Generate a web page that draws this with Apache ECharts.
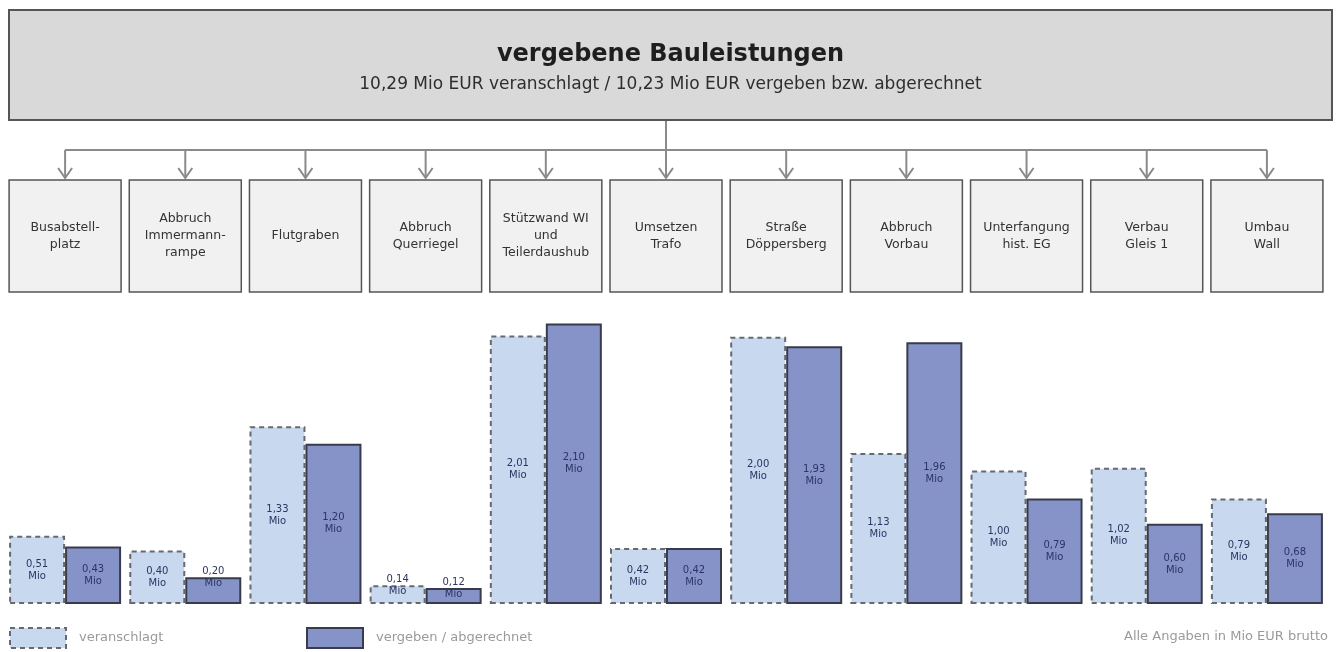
<!DOCTYPE html>
<html lang="de">
<head>
    <meta charset="UTF-8">
    <title>vergebene Bauleistungen</title>
    <style>
        html, body { margin: 0; padding: 0; background: #fff; }
        #chart { width: 1341px; height: 652px; }
    </style>
    <script src="https://cdn.jsdelivr.net/npm/echarts@6/dist/echarts.min.js"></script>
</head>
<body>
    <div id="chart"></div>
    <script>
        // Kategorien (Kästen oben, Balkenpaare unten)
        const categories = [
            'Busabstell-\nplatz', 'Abbruch\nImmermann-\nrampe', 'Flutgraben', 'Abbruch\nQuerriegel',
            'Stützwand WI\nund\nTeilerdaushub', 'Umsetzen\nTrafo', 'Straße\nDöppersberg', 'Abbruch\nVorbau',
            'Unterfangung\nhist. EG', 'Verbau\nGleis 1', 'Umbau\nWall'
        ];
        const veranschlagt = [0.51, 0.40, 1.33, 0.14, 2.01, 0.42, 2.00, 1.13, 1.00, 1.02, 0.79];
        const vergeben = [0.43, 0.20, 1.20, 0.12, 2.10, 0.42, 1.93, 1.96, 0.79, 0.60, 0.68];

        const FONT = '"DejaVu Sans", "Liberation Sans", Arial, sans-serif';
        const chart = echarts.init(document.getElementById('chart'));

        const fmt = p => p.value.toFixed(2).replace('.', ',') + '\nMio';
        const barLabel = {
            show: true,
            position: 'inside',
            formatter: fmt,
            fontSize: 10,
            lineHeight: 12,
            color: '#2b3563',
            fontFamily: FONT
        };
        // sehr kleine Balken: Beschriftung ragt über den Balken hinaus
        const withLabels = arr => arr.map(v => v < 0.25
            ? { value: v, label: { position: 'top', distance: -12 } }
            : v);

        const legendText = { color: '#9a9a9a', fontSize: 13, fontFamily: FONT, padding: [0, 0, 0, 8] };

        chart.setOption({
            animation: false,
            textStyle: { fontFamily: FONT },
            title: {
                text: 'vergebene Bauleistungen',
                subtext: '10,29 Mio EUR veranschlagt / 10,23 Mio EUR vergeben bzw. abgerechnet',
                left: 'center',
                top: 38,
                itemGap: 9,
                textStyle: { fontSize: 24, fontWeight: 'bold', color: '#1e1e1e', fontFamily: FONT },
                subtextStyle: { fontSize: 17, color: '#2e2e2e', fontFamily: FONT }
            },
            legend: [{
                left: 4,
                top: 622,
                icon: 'rect',
                itemWidth: 56,
                itemHeight: 20,
                data: ['veranschlagt'],
                itemStyle: { borderType: [5, 4], borderColor: '#666a70', borderWidth: 2 },
                textStyle: legendText
            }, {
                left: 301,
                top: 622,
                icon: 'rect',
                itemWidth: 56,
                itemHeight: 20,
                data: ['vergeben / abgerechnet'],
                itemStyle: { borderColor: '#383b4a', borderWidth: 2 },
                textStyle: legendText
            }],
            grid: { left: 5, right: 14, top: 270, bottom: 48 },
            xAxis: {
                type: 'category',
                data: categories,
                show: false
            },
            yAxis: {
                type: 'value',
                min: 0,
                max: 2.5,
                show: false
            },
            series: [{
                name: 'veranschlagt',
                type: 'bar',
                data: withLabels(veranschlagt),
                barWidth: 56,
                barGap: '0%',
                itemStyle: {
                    color: '#c7d8ef',
                    borderColor: '#666a70',
                    borderWidth: 2,
                    borderType: [5, 4]
                },
                label: barLabel
            }, {
                name: 'vergeben / abgerechnet',
                type: 'bar',
                data: withLabels(vergeben),
                barWidth: 56,
                itemStyle: {
                    color: '#8693c9',
                    borderColor: '#383b4a',
                    borderWidth: 2
                },
                label: barLabel
            }]
        });

        // Organigramm oben: Kästen an den Kategorie-Positionen der Achse
        const centers = categories.map((c, i) => chart.convertToPixel({ xAxisIndex: 0 }, i));
        const lineStyle = { stroke: '#8a8a8a', lineWidth: 2 };
        const graphics = [{
            type: 'rect',
            shape: { x: 9, y: 10, width: 1323, height: 110 },
            style: { fill: '#d9d9d9', stroke: '#555', lineWidth: 2 },
            z: -1
        }, {
            type: 'line',
            shape: { x1: centers[5], y1: 121, x2: centers[5], y2: 150 },
            style: lineStyle
        }, {
            type: 'line',
            shape: { x1: centers[0], y1: 150, x2: centers[categories.length - 1], y2: 150 },
            style: lineStyle
        }, {
            type: 'text',
            right: 13,
            top: 630,
            style: { text: 'Alle Angaben in Mio EUR brutto', fill: '#9a9a9a', fontSize: 13, fontFamily: FONT }
        }];
        centers.forEach((cx, i) => {
            graphics.push({
                type: 'line',
                shape: { x1: cx, y1: 150, x2: cx, y2: 178 },
                style: lineStyle
            }, {
                type: 'polyline',
                shape: { points: [[cx - 7, 168], [cx, 178], [cx + 7, 168]] },
                style: { stroke: '#8a8a8a', lineWidth: 2, fill: null }
            }, {
                type: 'rect',
                shape: { x: cx - 56, y: 180, width: 112, height: 112 },
                style: { fill: '#f1f1f1', stroke: '#555', lineWidth: 1.5 }
            }, {
                type: 'text',
                x: cx,
                y: 236,
                style: {
                    text: categories[i],
                    align: 'center',
                    verticalAlign: 'middle',
                    fontSize: 12.5,
                    lineHeight: 17,
                    fill: '#333',
                    fontFamily: FONT
                }
            });
        });
        chart.setOption({ graphic: graphics });
    </script>
</body>
</html>
